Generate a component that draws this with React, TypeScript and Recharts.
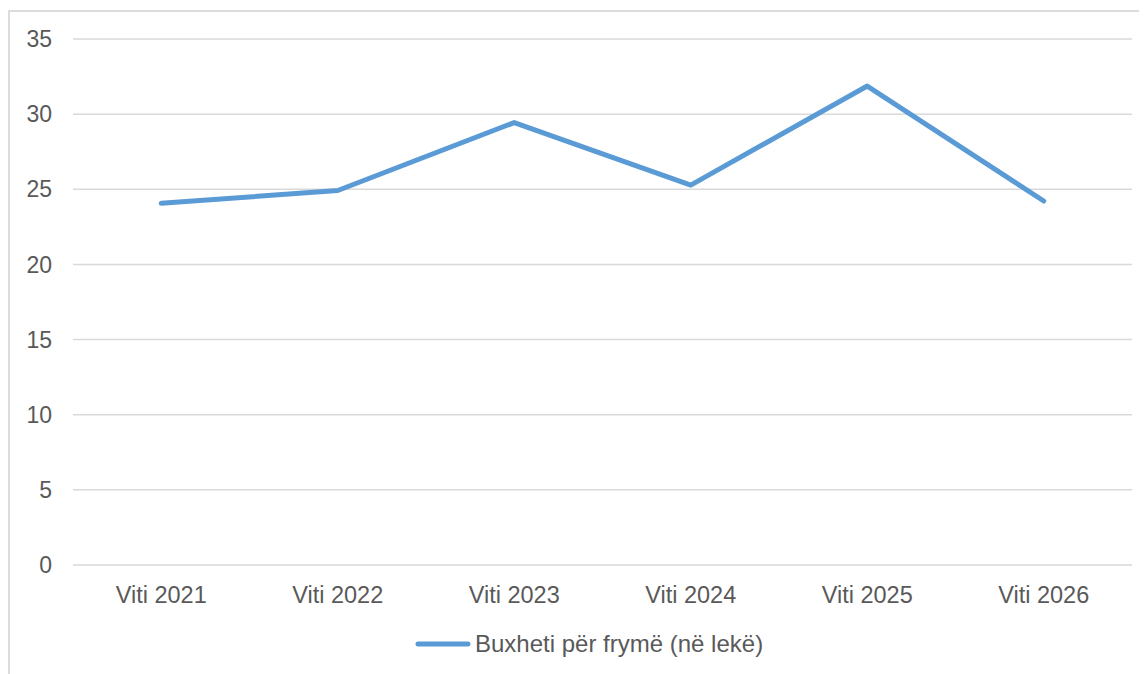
import React from 'react';
import { LineChart, Line, XAxis, YAxis, CartesianGrid, Legend } from 'recharts';

const categories = ['Viti 2021', 'Viti 2022', 'Viti 2023', 'Viti 2024', 'Viti 2025', 'Viti 2026'];
const budgetPerCapita = [24.07, 24.92, 29.44, 25.28, 31.87, 24.22];
const yTicks = [0, 5, 10, 15, 20, 25, 30, 35];
const seriesName = 'Buxheti për frymë (në lekë)';

const data = categories.map((c, i) => ({ name: c, value: budgetPerCapita[i] }));

const FONT = '"Liberation Sans", Arial, sans-serif';
const TEXT = '#595959';
const LINE = '#5b9bd5';

const renderLegend = () => (
  <div style={{ display: 'flex', alignItems: 'center', height: 40, fontFamily: FONT }}>
    <svg width={56} height={8} style={{ display: 'block' }}>
      <line x1={3} y1={4} x2={53} y2={4} stroke={LINE} strokeWidth={5} strokeLinecap="round" />
    </svg>
    <span style={{ fontSize: 24, color: TEXT, marginLeft: 4, lineHeight: '40px' }}>{seriesName}</span>
  </div>
);

export default function App() {
  return (
    <div
      style={{
        marginTop: 2,
        width: 1139,
        height: 664,
        borderLeft: '2px solid #dcdcdc',
        borderTop: '2px solid #dcdcdc',
        boxSizing: 'border-box',
        position: 'relative',
        background: '#fff',
      }}
    >
      <LineChart
        width={1137}
        height={662}
        data={data}
        margin={{ top: 27, right: 15, bottom: 10, left: 0 }}
      >
        <CartesianGrid horizontal vertical={false} stroke="#d9d9d9" strokeWidth={1.5} />
        <XAxis
          dataKey="name"
          scale="band"
          axisLine={false}
          tickLine={false}
          tickSize={0}
          tickMargin={21}
          height={59}
          interval={0}
          tick={{ fontSize: 23.5, fill: TEXT, fontFamily: FONT }}
        />
        <YAxis
          domain={[0, 35]}
          ticks={yTicks}
          axisLine={false}
          tickLine={false}
          tickSize={0}
          tickMargin={21}
          width={63}
          interval={0}
          tick={{ fontSize: 23, fill: TEXT, fontFamily: FONT }}
        />
        <Legend
          verticalAlign="bottom"
          content={renderLegend}
          wrapperStyle={{ left: 405, width: 'auto' }}
        />
        <Line
          type="linear"
          dataKey="value"
          name={seriesName}
          stroke={LINE}
          strokeWidth={5}
          strokeLinecap="round"
          strokeLinejoin="round"
          dot={false}
          activeDot={false}
          isAnimationActive={false}
        />
      </LineChart>
    </div>
  );
}
